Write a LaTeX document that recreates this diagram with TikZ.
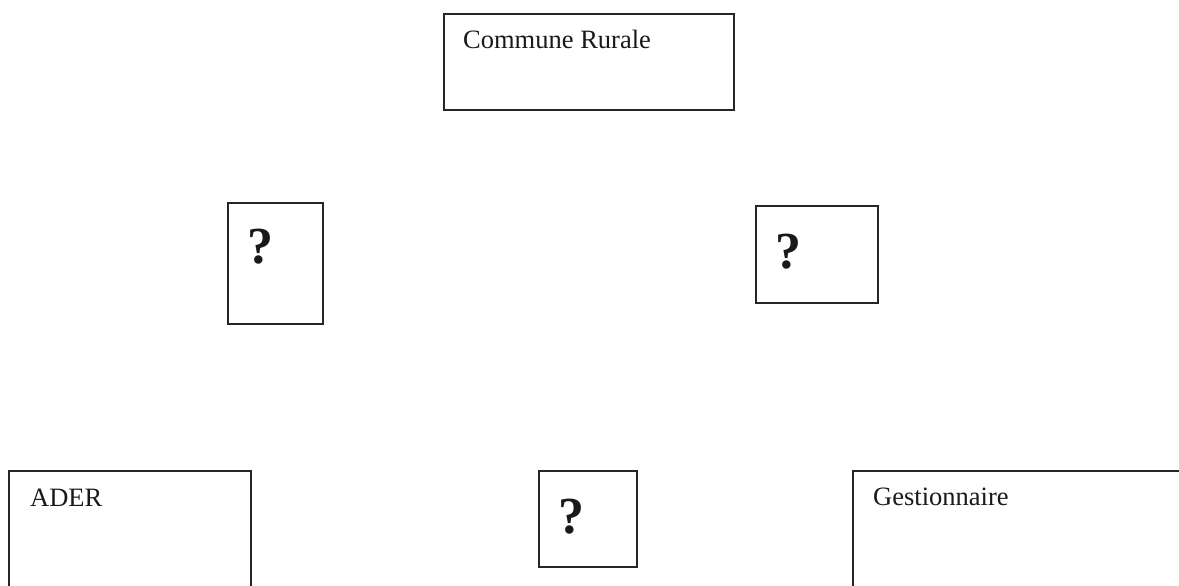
\documentclass[tikz,border=0pt]{standalone}
\usepackage{fontspec}
\setmainfont{Liberation Serif}
\begin{document}
\begin{tikzpicture}[x=1pt,y=-1pt,
  box/.style={draw=black!85, line width=1.8pt, rectangle, inner sep=0pt, anchor=north west},
  lbl/.style={anchor=base west, inner sep=0pt, font=\fontsize{26.5}{30}\selectfont, text=black!90},
  qm/.style={anchor=base west, inner sep=0pt, font=\fontsize{52}{60}\selectfont\bfseries, text=black!90}]
\useasboundingbox (0,0) rectangle (1179,586);
\clip (0,0) rectangle (1179,586);
% top box
\node[box, minimum width=290pt, minimum height=96pt] (commune) at (443,13) {};
\node[lbl] (communeT) at (463,49) {Commune Rurale};
% middle question boxes
\node[box, minimum width=95pt, minimum height=121pt] (lq) at (227,202) {};
\node[qm] (lqT) at (247,263) {?};
\node[box, minimum width=122pt, minimum height=97pt] (rq) at (755,205) {};
\node[qm] (rqT) at (775,268) {?};
% bottom row
\node[box, minimum width=242pt, minimum height=160pt] (ader) at (8,470) {};
\node[lbl] (aderT) at (30,506) {ADER};
\node[box, minimum width=98pt, minimum height=96pt] (bq) at (538,470) {};
\node[qm] (bqT) at (558,533) {?};
\node[box, minimum width=400pt, minimum height=160pt] (gest) at (852,470) {};
\node[lbl] (gestT) at (873,505) {Gestionnaire};
\end{tikzpicture}
\end{document}
